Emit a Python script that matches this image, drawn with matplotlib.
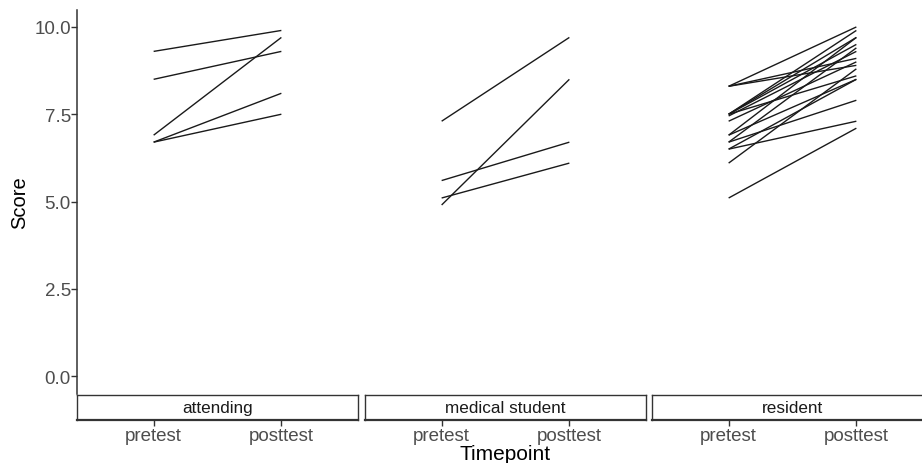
import matplotlib
matplotlib.use("Agg")
import matplotlib.pyplot as plt

plt.rcParams['font.family'] = ['Liberation Sans', 'DejaVu Sans']

# ---- data ----
groups = ["attending", "medical student", "resident"]
timepoints = ["pretest", "posttest"]
y_ticks = [0.0, 2.5, 5.0, 7.5, 10.0]

attending_pre = [9.3, 8.5, 6.9, 6.7, 6.7]
attending_post = [9.9, 9.3, 9.7, 8.1, 7.5]

medical_pre = [7.3, 4.9, 5.6, 5.1]
medical_post = [9.7, 8.5, 6.7, 6.1]

resident_pre = [8.3, 8.3, 8.3, 7.5, 7.5, 7.5, 7.45, 7.5, 7.3, 6.9, 6.9, 6.7, 6.7, 6.5, 6.5, 6.1, 5.1]
resident_post = [10.0, 9.1, 8.9, 9.9, 9.7, 9.5, 9.3, 8.6, 9.0, 9.7, 8.5, 9.4, 7.9, 8.5, 7.3, 8.8, 7.1]

pre_vals = [attending_pre, medical_pre, resident_pre]
post_vals = [attending_post, medical_post, resident_post]

# ---- layout (pixels) ----
W, H = 922, 464
fig = plt.figure(figsize=(W / 100, H / 100), dpi=100)

def fbox(x0, y0, x1, y1):
    return [x0 / W, 1 - y1 / H, (x1 - x0) / W, (y1 - y0) / H]

panel_x = [(77, 358), (365, 646), (652, 933)]
panel_top, panel_bot = 10.5, 394.5
strip_top, strip_bot = 396, 421
ylim = (-0.5, 10.5)
xlim = (-0.6, 1.6)

line_col = "#1a1a1a"
tick_col = "#4d4d4d"

for i, (x0, x1) in enumerate(panel_x):
    ax = fig.add_axes(fbox(x0, panel_top, x1, panel_bot))
    for a, b in zip(pre_vals[i], post_vals[i]):
        ax.plot([0, 1], [a, b], color=line_col, lw=1.0, solid_capstyle="butt")
    ax.set_xlim(*xlim)
    ax.set_ylim(*ylim)
    ax.set_xticks([])
    for s in ["top", "right", "bottom"]:
        ax.spines[s].set_visible(False)
    if i == 0:
        ax.spines["left"].set_color("#333333")
        ax.spines["left"].set_linewidth(1.1)
        ax.set_yticks(y_ticks)
        ax.set_yticklabels([f"{v:.1f}" for v in y_ticks], fontsize=13.5, color=tick_col)
        ax.tick_params(axis="y", length=4, width=1, color="#333333", pad=0.5)
        ax.set_ylabel("Score", fontsize=14.5, labelpad=3.5)
    else:
        ax.spines["left"].set_visible(False)
        ax.set_yticks([])

    # strip + x axis
    sx = fig.add_axes(fbox(x0, strip_top, x1, strip_bot))
    sx.set_xlim(*xlim)
    sx.set_ylim(0, 1)
    sx.set_yticks([])
    sx.set_facecolor("white")
    for s in ["top", "right", "left"]:
        sx.spines[s].set_color("#333333")
        sx.spines[s].set_linewidth(1.0)
    sx.spines["bottom"].set_color("#333333")
    sx.spines["bottom"].set_linewidth(1.6)
    sx.set_xticks(range(len(timepoints)))
    sx.set_xticklabels(timepoints, fontsize=13.5, color=tick_col)
    sx.tick_params(axis="x", length=4, width=1, color="#333333", pad=1)
    sx.text(0.5, 0.5, groups[i], transform=sx.transAxes, ha="center", va="center",
            fontsize=12.3, color="#1a1a1a")

fig.text(505.5 / W, 1 - 455 / H, "Timepoint", ha="center", va="center", fontsize=15)

fig.savefig("out.png", dpi=100, facecolor="white")
